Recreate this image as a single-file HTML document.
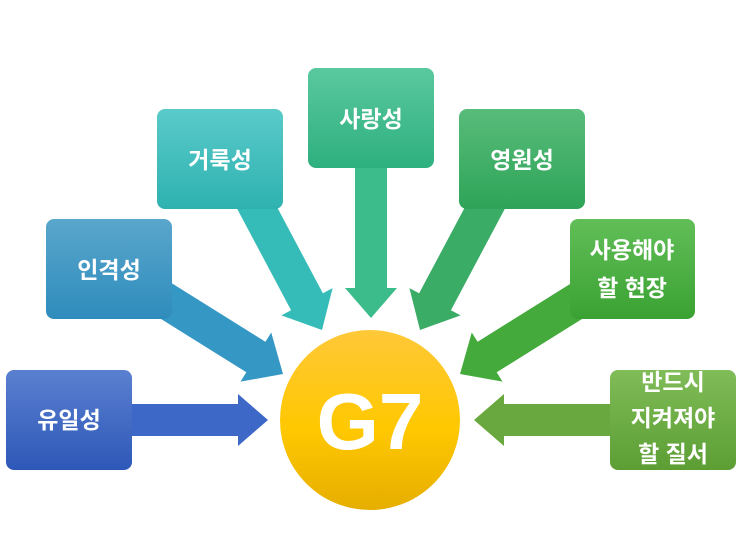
<!DOCTYPE html>
<html><head><meta charset="utf-8"><style>
body{margin:0;background:#fff;}
svg{display:block;}
text{font-family:"Liberation Sans","Noto Sans CJK KR",sans-serif;font-weight:bold;fill:#fff;text-anchor:middle;}
</style></head><body>
<svg width="743" height="557" viewBox="0 0 743 557">
<defs>
<linearGradient id="gb1" x1="0" y1="0" x2="0" y2="1"><stop offset="0" stop-color="#5a80d0"/><stop offset="1" stop-color="#2e58b8"/></linearGradient>
<linearGradient id="gb2" x1="0" y1="0" x2="0" y2="1"><stop offset="0" stop-color="#5aa6cc"/><stop offset="1" stop-color="#2e8cbc"/></linearGradient>
<linearGradient id="gb3" x1="0" y1="0" x2="0" y2="1"><stop offset="0" stop-color="#5acaca"/><stop offset="1" stop-color="#2eb2b0"/></linearGradient>
<linearGradient id="gb4" x1="0" y1="0" x2="0" y2="1"><stop offset="0" stop-color="#5ac8a0"/><stop offset="1" stop-color="#2eb07e"/></linearGradient>
<linearGradient id="gb5" x1="0" y1="0" x2="0" y2="1"><stop offset="0" stop-color="#58bc7a"/><stop offset="1" stop-color="#2ea458"/></linearGradient>
<linearGradient id="gb6" x1="0" y1="0" x2="0" y2="1"><stop offset="0" stop-color="#62be58"/><stop offset="1" stop-color="#3aa232"/></linearGradient>
<linearGradient id="gb7" x1="0" y1="0" x2="0" y2="1"><stop offset="0" stop-color="#80bc58"/><stop offset="1" stop-color="#5c9e34"/></linearGradient>
<linearGradient id="gc" x1="0" y1="0" x2="0" y2="1"><stop offset="0" stop-color="#ffc838"/><stop offset="0.55" stop-color="#ffc800"/><stop offset="1" stop-color="#e6ae00"/></linearGradient>
<polygon id="ar" points="0,-16 -30,-16 -30,-26 0,0 -30,26 -30,16 -200,16 -200,-16"/>
<polygon id="ad" points="0,-18 -32,-18 -32,-29 0,0 -32,29 -32,18 -200,18 -200,-18"/>
</defs>
<use href="#ar" fill="#3d68c8" transform="translate(268,420)"/>
<use href="#ad" fill="#3598c4" transform="translate(283,374) rotate(32)"/>
<use href="#ad" fill="#36bcb8" transform="translate(322,330) rotate(62)"/>
<use href="#ar" fill="#3cbc8a" transform="translate(371,318) rotate(90)"/>
<use href="#ad" fill="#3aac66" transform="translate(420,330) rotate(118)"/>
<use href="#ad" fill="#44aa3c" transform="translate(460,374) rotate(148)"/>
<use href="#ar" fill="#68a83e" transform="translate(474,420) rotate(180)"/>
<rect x="6" y="370" width="126" height="100" rx="8" fill="url(#gb1)"/>
<rect x="46" y="219" width="126" height="100" rx="8" fill="url(#gb2)"/>
<rect x="157" y="109" width="126" height="100" rx="8" fill="url(#gb3)"/>
<rect x="308" y="68" width="126" height="100" rx="8" fill="url(#gb4)"/>
<rect x="459" y="109" width="126" height="100" rx="8" fill="url(#gb5)"/>
<rect x="570" y="219" width="125" height="100" rx="8" fill="url(#gb6)"/>
<rect x="610" y="370" width="126" height="100" rx="8" fill="url(#gb7)"/>
<g font-size="23">
<text x="69" y="428">유일성</text>
<text x="109" y="278">인격성</text>
<text x="220" y="168">거룩성</text>
<text x="371" y="127">사랑성</text>
<text x="522" y="168">영원성</text>
<text x="632" y="258">사용해야</text>
<text x="632" y="296">할 현장</text>
<text x="673" y="390">반드시</text>
<text x="673" y="426">지켜져야</text>
<text x="673" y="462">할 질서</text>
</g>
<circle cx="370" cy="420" r="90" fill="url(#gc)"/>
<text x="370" y="449" font-size="80">G7</text>
</svg>
</body></html>
